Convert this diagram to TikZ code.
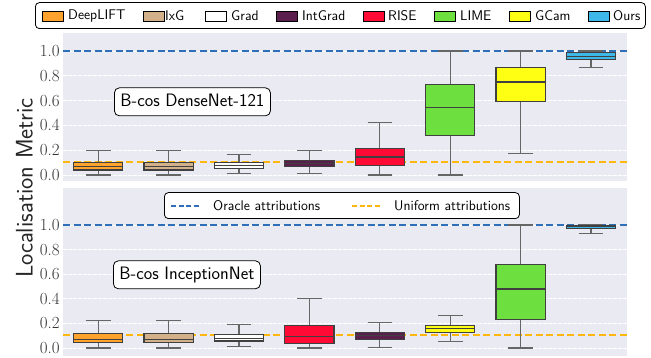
\documentclass[tikz,border=0pt]{standalone}
\usepackage{amsmath}

\definecolor{bgpanel}{HTML}{EAEAF2}
\definecolor{oraclecol}{HTML}{2F6FBA}
\definecolor{uniformcol}{HTML}{FFB60D}
\definecolor{cDeep}{HTML}{FFA22E}
\definecolor{cIxG}{HTML}{D2B08A}
\definecolor{cGrad}{HTML}{FFFFFF}
\definecolor{cInt}{HTML}{5B1F4E}
\definecolor{cRise}{HTML}{FF0A35}
\definecolor{cLime}{HTML}{6DE03F}
\definecolor{cGcam}{HTML}{FFFF14}
\definecolor{cOurs}{HTML}{3DB8E8}

% one box with whiskers: x, low, q1, median, q3, high, colour
\newcommand{\boxwhisker}[7]{%
  \draw[whisk] (#1,#2) -- (#1,#3) (#1,#5) -- (#1,#6);
  \draw[whisk] (#1-12.3,#2) -- (#1+12.3,#2) (#1-12.3,#6) -- (#1+12.3,#6);
  \filldraw[boxs, fill=#7] (#1-24.6,#3) rectangle (#1+24.6,#5);
  \draw[boxs] (#1-24.6,#4) -- (#1+24.6,#4);
}

\begin{document}
\begin{tikzpicture}[x=1pt, y=1pt,
    panel/.style={fill=bgpanel, draw=none},
    gridline/.style={white, line width=0.8pt, dash pattern=on 3.5pt off 1.5pt},
    oracle/.style={draw=oraclecol, line width=1.8pt, dash pattern=on 7pt off 3.5pt},
    uniform/.style={draw=uniformcol, line width=1.8pt, dash pattern=on 7pt off 3.5pt},
    whisk/.style={draw=black!60, line width=1.1pt},
    boxs/.style={draw=black!75, line width=1.1pt},
    ticklab/.style={anchor=east, inner sep=0pt, text=black!80, font=\fontsize{17}{17}\selectfont},
    tagbox/.style={draw, rounded corners=5pt, fill=white, line width=0.8pt, anchor=west,
      font=\sffamily\fontsize{18}{18}\selectfont, inner xsep=6pt, inner ysep=6pt,
      text height=12.5pt, text depth=3.5pt},
    legframe/.style={draw, rounded corners=4pt, fill=white, line width=0.8pt},
    legtext/.style={anchor=west, inner sep=0pt, font=\sffamily\fontsize{14}{14}\selectfont},
    legpatch/.style={draw=black, line width=0.8pt, minimum width=21pt, minimum height=10pt, inner sep=0pt, anchor=west}]

  \useasboundingbox (0,0) rectangle (651,358);

  % y axis label
  \node[rotate=90, anchor=south, inner sep=0pt, text=black!85, font=\sffamily\fontsize{24}{24}\selectfont] (ylab) at (33,170) {Localisation Metric};

  % top panel: DenseNet
  \begin{scope}[yshift=183pt, y=124pt]
    \fill[panel] (63,-0.048) rectangle (627,1.145);
    \foreach \v [count=\k] in {0.0,0.2,0.4,0.6,0.8,1.0} {
      \draw[gridline] (63,\v) -- (627,\v);
      \node[ticklab] (ttop\k) at (60,\v) {\v};
    }
    \draw[oracle] (63,1.0) -- (627,1.0);
    \draw[uniform] (63,0.107) -- (627,0.107);
    \foreach \cx/\lo/\qa/\md/\qb/\hi/\col in {
        98.2/0.0/0.04/0.07/0.10/0.20/cDeep,
        168.6/0.0/0.04/0.07/0.10/0.20/cIxG,
        239.0/0.015/0.055/0.08/0.10/0.165/cGrad,
        309.4/0.015/0.065/0.09/0.12/0.20/cInt,
        379.8/0.0/0.08/0.145/0.215/0.42/cRise,
        450.2/0.0/0.315/0.545/0.73/1.0/cLime,
        520.6/0.17/0.59/0.75/0.865/1.0/cGcam,
        591.0/0.865/0.935/0.955/0.99/1.0/cOurs} {
      \boxwhisker{\cx}{\lo}{\qa}{\md}{\qb}{\hi}{\col}
    }
    \node[tagbox] (dense) at (114,0.59) {B-cos DenseNet-121};
  \end{scope}

  % bottom panel: InceptionNet
  \begin{scope}[yshift=10pt, y=123pt]
    \fill[panel] (63,-0.065) rectangle (627,1.30);
    \foreach \v [count=\k] in {0.0,0.2,0.4,0.6,0.8,1.0} {
      \draw[gridline] (63,\v) -- (627,\v);
      \node[ticklab] (tbot\k) at (60,\v) {\v};
    }
    \draw[oracle] (63,1.0) -- (627,1.0);
    \draw[uniform] (63,0.106) -- (627,0.106);
    \foreach \cx/\lo/\qa/\md/\qb/\hi/\col in {
        98.2/0.0/0.045/0.07/0.115/0.22/cDeep,
        168.6/0.0/0.045/0.07/0.115/0.22/cIxG,
        239.0/0.01/0.057/0.08/0.108/0.19/cGrad,
        309.4/0.0/0.035/0.09/0.18/0.40/cRise,
        379.8/0.005/0.07/0.10/0.125/0.205/cInt,
        450.2/0.05/0.127/0.155/0.18/0.265/cGcam,
        520.6/0.0/0.23/0.48/0.68/1.0/cLime,
        591.0/0.93/0.97/0.985/0.995/1.0/cOurs} {
      \boxwhisker{\cx}{\lo}{\qa}{\md}{\qb}{\hi}{\col}
    }
    \node[tagbox] (incep) at (113,0.595) {B-cos InceptionNet};
  \end{scope}

  % legend of lines
  \node[legframe, minimum width=355pt, minimum height=26pt, anchor=south west] (linelegend) at (164,139) {};
  \coordinate (ora1) at (171,152);
  \coordinate (ora2) at (200,152);
  \coordinate (uni1) at (352,152);
  \coordinate (uni2) at (380,152);
  \draw[oracle, line width=1.3pt, dash pattern=on 5pt off 2.5pt] (ora1) -- (ora2);
  \draw[uniform, line width=1.3pt, dash pattern=on 5pt off 2.5pt] (uni1) -- (uni2);
  \node[legtext] (oratext) at (213,152) {Oracle attributions};
  \node[legtext] (unitext) at (394,152) {Uniform attributions};

  % legend of methods
  \node[legframe, minimum width=610pt, minimum height=26pt, anchor=south west] (methlegend) at (35,329) {};
  \foreach \px/\tx/\col/\lab [count=\k] in {
      42/68/cDeep/DeepLIFT, 143/165/cIxG/IxG, 205/231/cGrad/Grad, 276/302/cInt/IntGrad,
      363/388/cRise/RISE, 434/460/cLime/LIME, 509/535/cGcam/GCam, 588/613/cOurs/Ours} {
    \node[legpatch, fill=\col] (patch\k) at (\px,342) {};
    \node[legtext] (lab\k) at (\tx,342) {\lab};
  }
\end{tikzpicture}
\end{document}
